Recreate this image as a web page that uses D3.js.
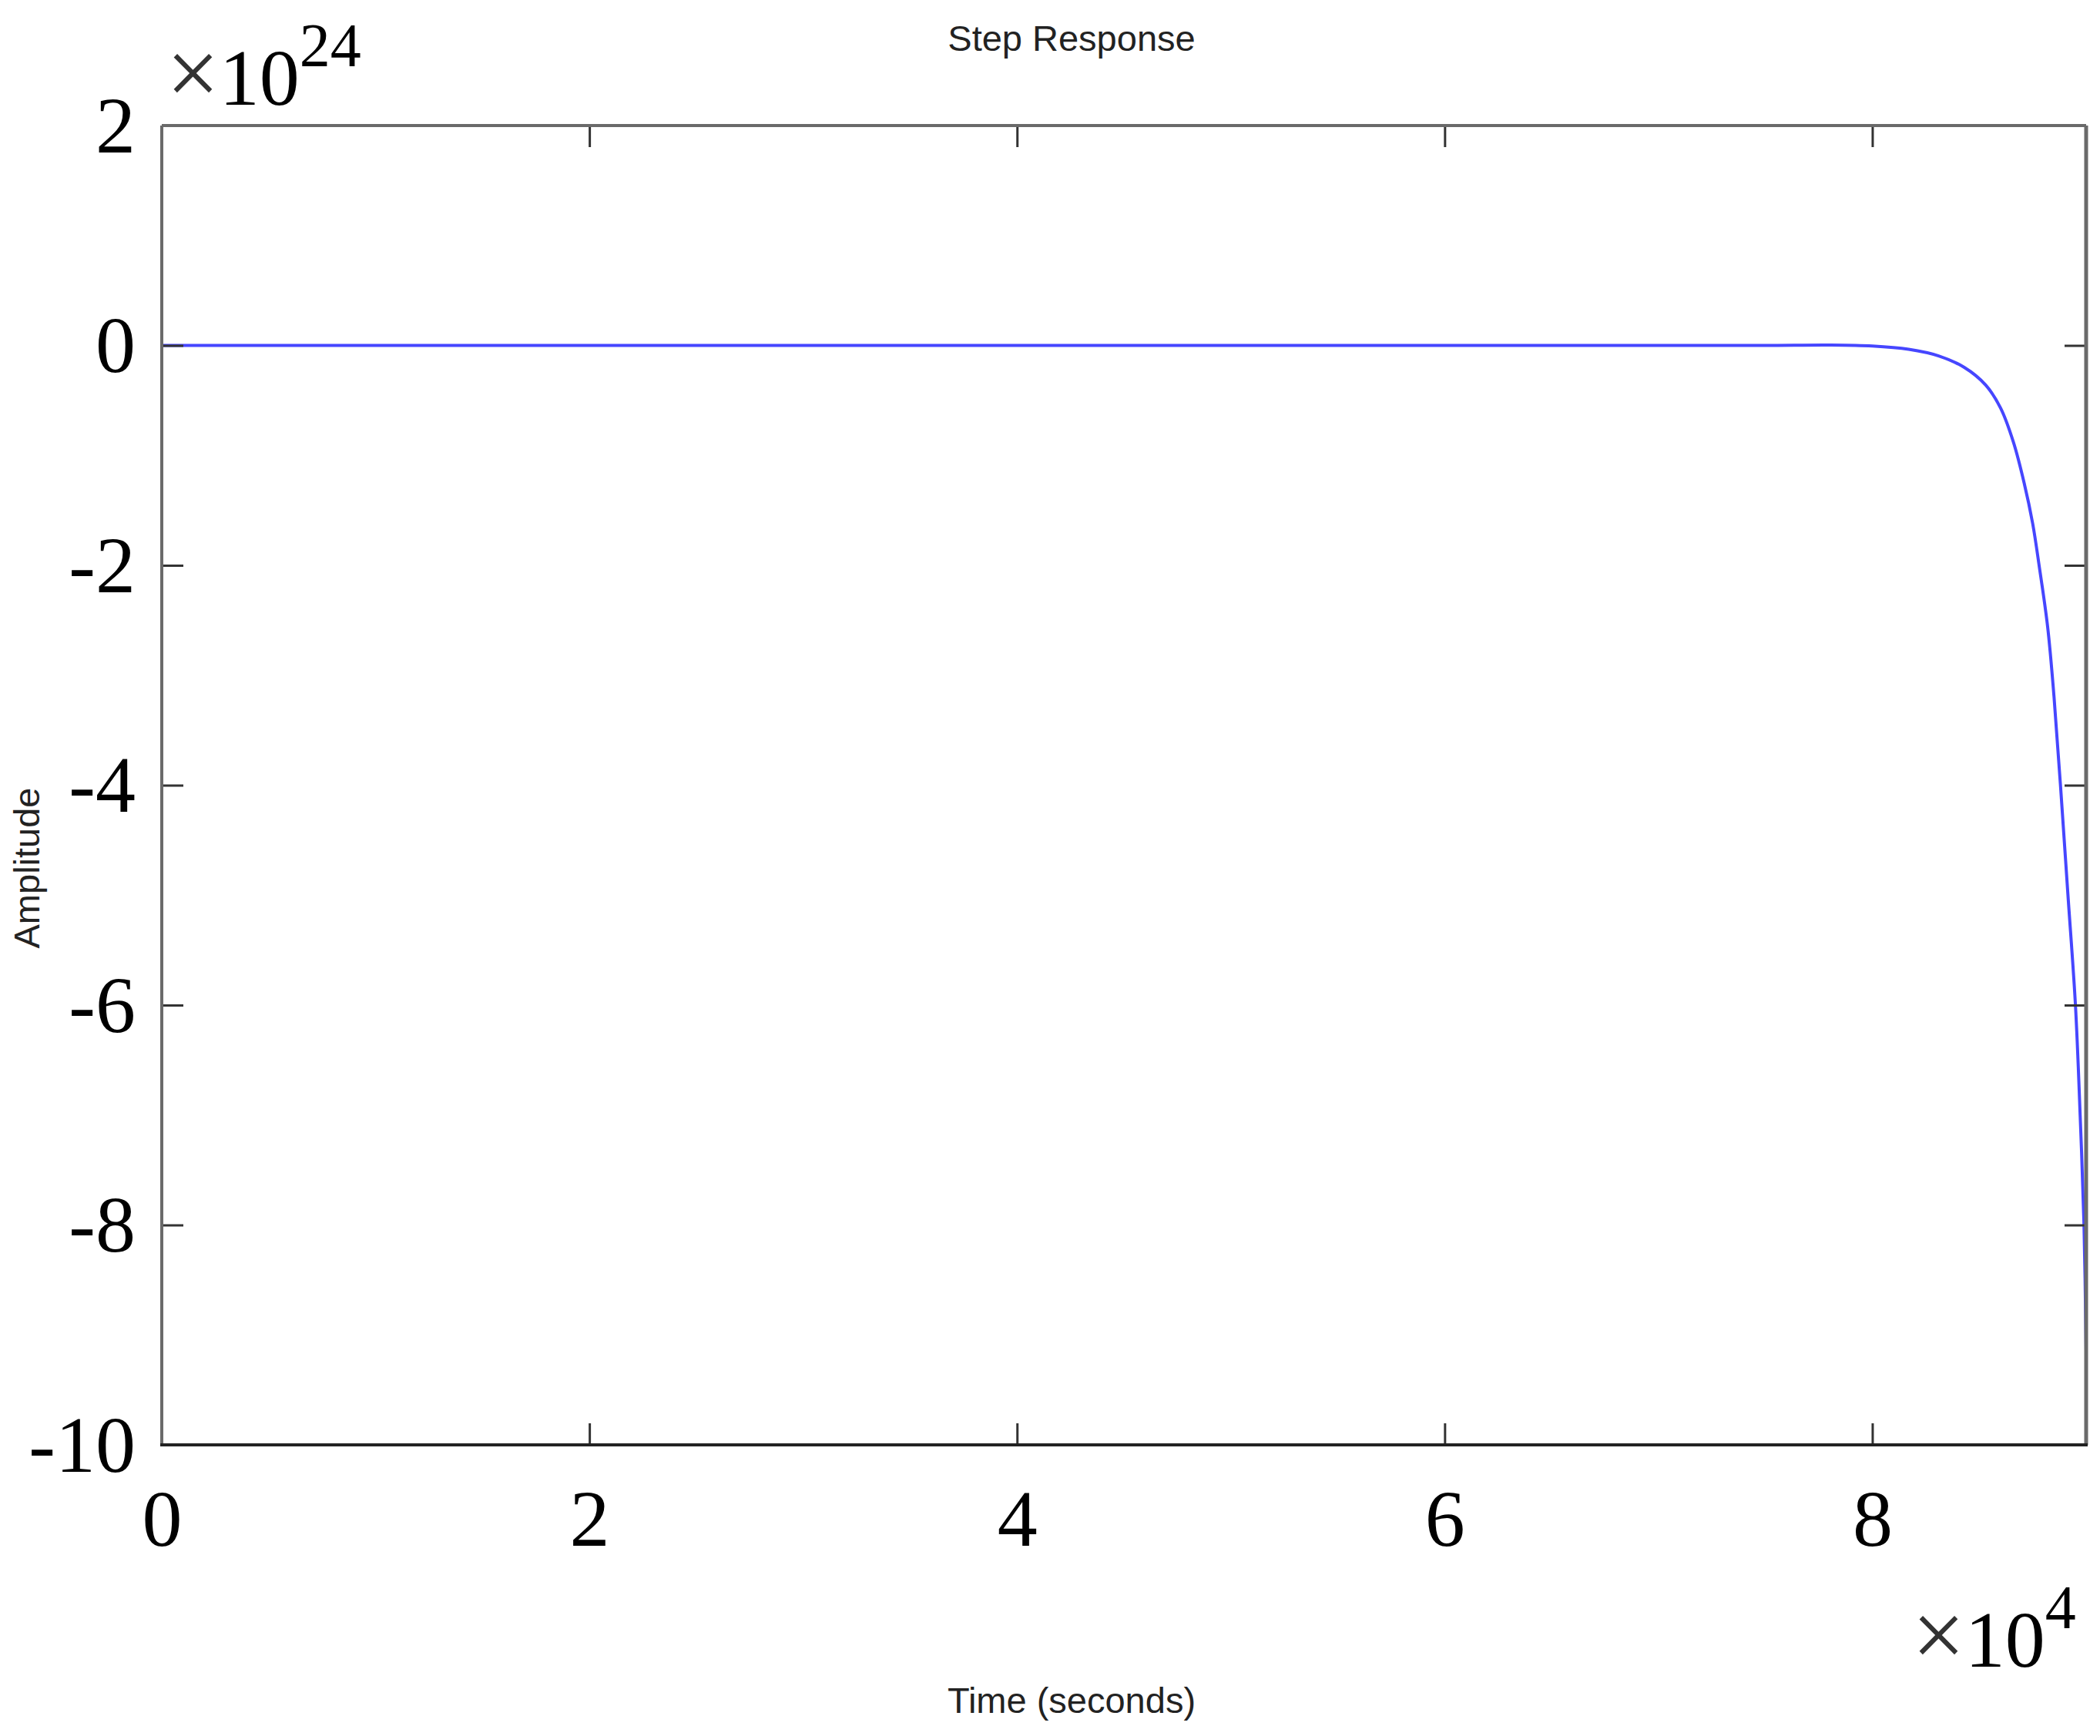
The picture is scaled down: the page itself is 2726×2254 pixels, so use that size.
<!DOCTYPE html>
<html>
<head>
<meta charset="utf-8">
<script src="https://cdn.jsdelivr.net/npm/d3@7"></script>
<style>
  html, body { margin: 0; padding: 0; background: #fff; }
  svg { display: block; }
</style>
</head>
<body>
<svg id="chart" width="2726" height="2254"></svg>
<script>
// ---- data (time in units of 1e4 s, amplitude in units of 1e24) ----
const timeValues = [0, 1, 2, 3, 4, 5, 6, 7, 7.5, 7.8, 8.0, 8.17, 8.31, 8.43, 8.53, 8.60, 8.66, 8.71, 8.75, 8.78, 8.82, 8.85, 8.88, 8.915, 8.95, 8.972, 8.99, 9.0];
const amplitudeValues = [0, 0, 0, 0, 0, 0, 0, 0, 0, 0.004, -0.005, -0.035, -0.095, -0.2, -0.36, -0.57, -0.88, -1.25, -1.62, -2.0, -2.56, -3.2, -4.0, -5.0, -6.0, -7.0, -8.0, -9.15];
const xTickValues = [0, 2, 4, 6, 8];
const yTickValues = [2, 0, -2, -4, -6, -8, -10];
const xDomain = [0, 9];
const yDomain = [-10, 2];
const xExponent = "4";
const yExponent = "24";
const titleText = "Step Response";
const xLabelText = "Time (seconds)";
const yLabelText = "Amplitude";

const svg = d3.select("#chart");
const L = 210, R = 2708, T = 163, B = 1876;
const x = d3.scaleLinear().domain(xDomain).range([L, R]);
const y = d3.scaleLinear().domain(yDomain).range([B, T]);
const serif = "'Liberation Serif', 'Times New Roman', serif";
const sans = "'Liberation Sans', Arial, sans-serif";
const tickLen = 28;

// clip
svg.append("defs").append("clipPath").attr("id", "clip")
  .append("rect").attr("x", L).attr("y", T - 2).attr("width", R - L).attr("height", B - T + 4);

// curve
const data = timeValues.map((t, i) => ({t, a: amplitudeValues[i]}));
svg.append("path")
  .datum(data)
  .attr("clip-path", "url(#clip)")
  .attr("fill", "none")
  .attr("stroke", "#4646ff")
  .attr("stroke-width", 4)
  .attr("stroke-linejoin", "round")
  .attr("d", d3.line().x(d => x(d.t)).y(d => y(d.a)).curve(d3.curveCatmullRom.alpha(0.5)));

// axes via d3 axis generators (inward ticks)
const fmt = d => String(d);
const xBottom = svg.append("g").attr("transform", `translate(0,${B})`)
  .call(d3.axisBottom(x).tickValues(xTickValues).tickSize(-tickLen).tickPadding(tickLen + 29).tickFormat(fmt));
const xTop = svg.append("g").attr("transform", `translate(0,${T})`)
  .call(d3.axisTop(x).tickValues(xTickValues).tickSize(-tickLen).tickFormat(""));
const yLeft = svg.append("g").attr("transform", `translate(${L},0)`)
  .call(d3.axisLeft(y).tickValues(yTickValues).tickSize(-tickLen).tickPadding(tickLen + 6).tickFormat(fmt));
const yRight = svg.append("g").attr("transform", `translate(${R},0)`)
  .call(d3.axisRight(y).tickValues(yTickValues).tickSize(-tickLen).tickFormat(""));

[xBottom, xTop, yLeft, yRight].forEach(g => {
  g.select(".domain").remove();
  g.selectAll(".tick line").attr("stroke", "#333").attr("stroke-width", 3);
});
[xBottom, yLeft].forEach(g => {
  g.selectAll(".tick text")
    .attr("font-family", serif).attr("font-size", 104).attr("fill", "#000");
});
xBottom.selectAll(".tick text").attr("dy", "0.71em");
yLeft.selectAll(".tick text").attr("dy", "0.33em");

// frame
svg.append("line").attr("x1", L).attr("x2", R).attr("y1", T).attr("y2", T).attr("stroke", "#6a6a6a").attr("stroke-width", 4);
svg.append("line").attr("x1", L).attr("x2", L).attr("y1", T).attr("y2", B).attr("stroke", "#6a6a6a").attr("stroke-width", 4);
svg.append("line").attr("x1", R).attr("x2", R).attr("y1", T).attr("y2", B).attr("stroke", "#6a6a6a").attr("stroke-width", 5);
svg.append("line").attr("x1", L - 2).attr("x2", R + 2).attr("y1", B).attr("y2", B).attr("stroke", "#222").attr("stroke-width", 4);

// exponent labels
function expLabel(xpos, ybase, exp) {
  const t = svg.append("text").attr("x", xpos).attr("y", ybase)
    .attr("font-family", serif).attr("font-size", 104).attr("fill", "#000");
  t.append("tspan").attr("font-size", 122).attr("fill", "#333").text("×");
  t.append("tspan").text("10");
  t.append("tspan").attr("font-size", 80).attr("dy", -50).text(exp);
}
expLabel(216, 136, yExponent);
expLabel(2482, 2164, xExponent);

// titles
svg.append("text").attr("x", 1391).attr("y", 66).attr("text-anchor", "middle")
  .attr("font-family", sans).attr("font-size", 47).attr("fill", "#222").text(titleText);
svg.append("text").attr("x", 1391).attr("y", 2224).attr("text-anchor", "middle")
  .attr("font-family", sans).attr("font-size", 47).attr("fill", "#222").text(xLabelText);
svg.append("text").attr("transform", "translate(51,1127) rotate(-90)").attr("text-anchor", "middle")
  .attr("font-family", sans).attr("font-size", 47).attr("fill", "#222").text(yLabelText);
</script>
</body>
</html>
